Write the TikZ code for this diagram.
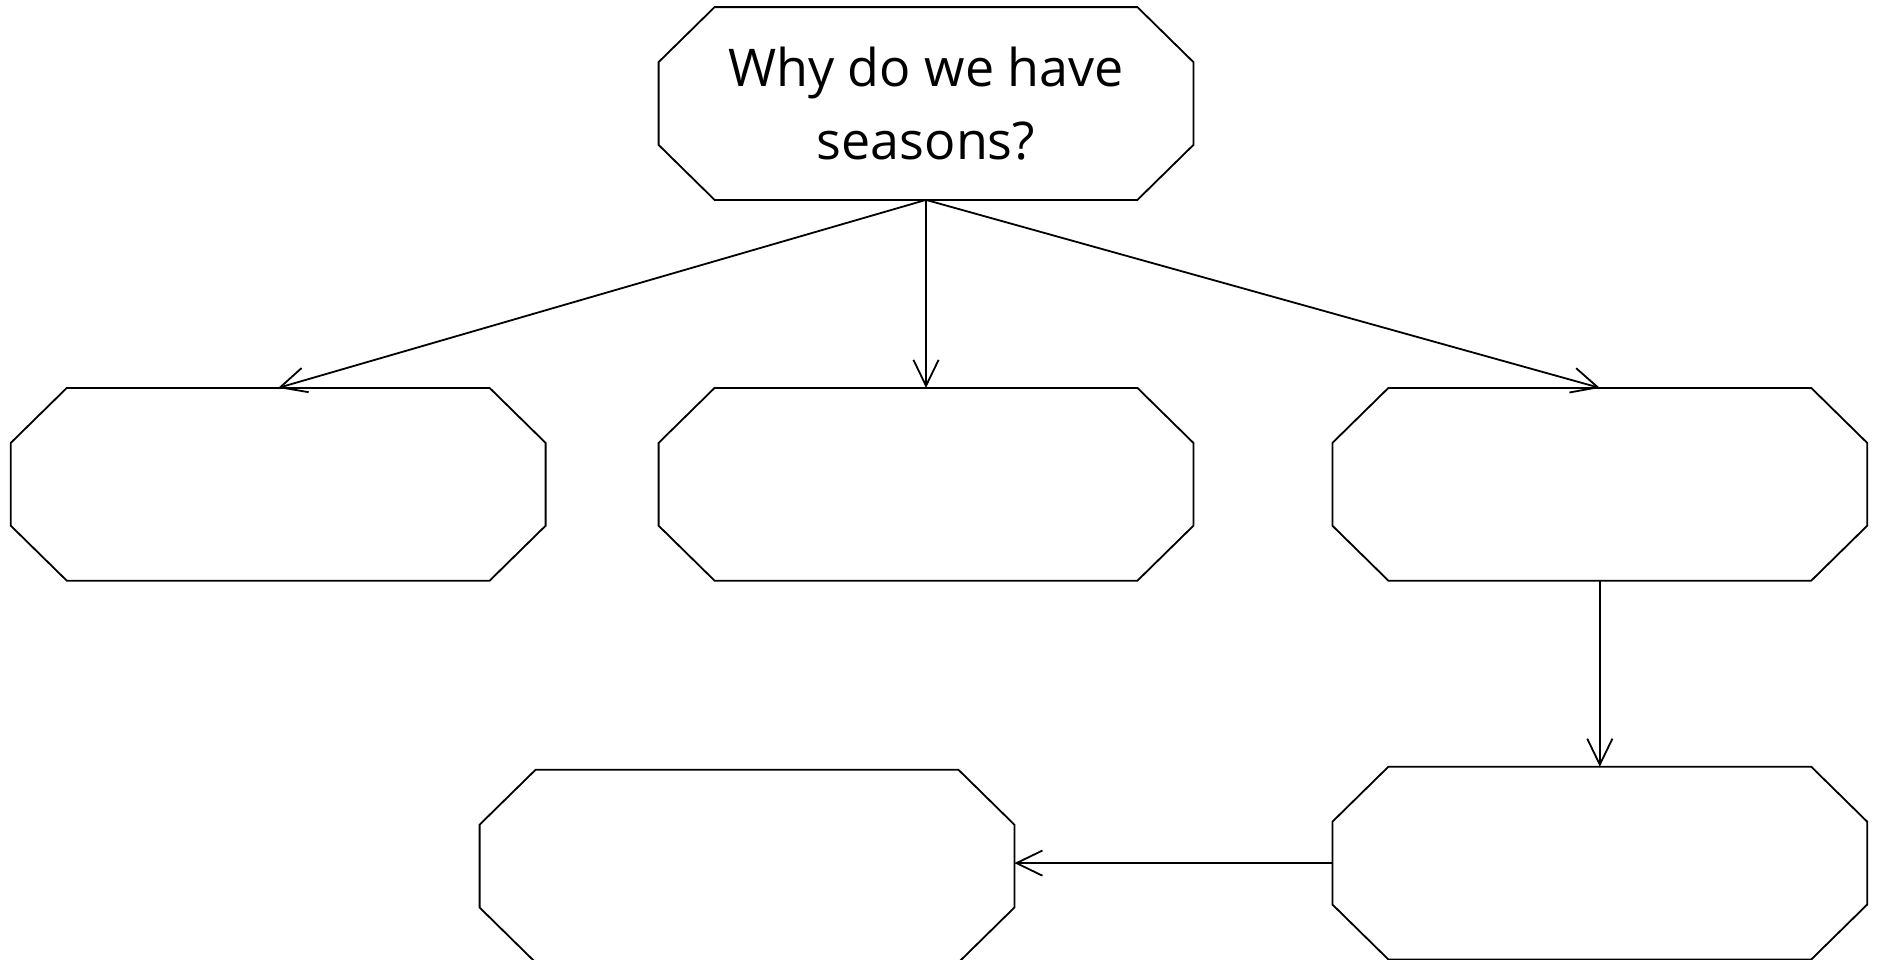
\documentclass[tikz,border=0pt]{standalone}
\usepackage{fontspec}
\setmainfont{Open Sans}
\usepackage{tikz}
\usetikzlibrary{arrows.meta, positioning}

\begin{document}
\begin{tikzpicture}[
    node distance=94pt and 56.5pt,
    box/.style={rectangle, minimum width=267pt, minimum height=96pt, inner sep=0pt, align=center, font=\fontsize{26}{36.6}\selectfont},
    outline/.style={line width=0.9pt},
    arrow/.style={-{Straight Barb[length=13pt, width=12.6pt]}, line width=0.9pt}
]
    \useasboundingbox (0,0) rectangle (941.5pt,-479.5pt);

    % Question and answer boxes
    \node[box] (question) at (463pt,-51.75pt) {Why do we have\\seasons?};
    \node[box, below=of question] (middle) {};
    \node[box, left=of middle] (left) {};
    \node[box, right=69.5pt of middle] (right) {};
    \node[box, below=93pt of right] (lower) {};
    \node[box, left=159pt of lower, yshift=-1.5pt] (last) {};

    % Octagon outlines
    \foreach \n in {question, left, middle, right, lower, last}
        \draw[outline] ([xshift=28pt]\n.north west) -- ([xshift=-28pt]\n.north east)
            -- ([yshift=-27.5pt]\n.north east) -- ([yshift=27.5pt]\n.south east)
            -- ([xshift=-28pt]\n.south east) -- ([xshift=28pt]\n.south west)
            -- ([yshift=27.5pt]\n.south west) -- ([yshift=-27.5pt]\n.north west) -- cycle;

    % Arrows
    \draw[arrow] (question.south) -- (left.north);
    \draw[arrow] (question.south) -- (middle.north);
    \draw[arrow] (question.south) -- (right.north);
    \draw[arrow] (right.south) -- (lower.north);
    \draw[arrow] (lower.west) -- (lower.west -| last.east);
\end{tikzpicture}
\end{document}
